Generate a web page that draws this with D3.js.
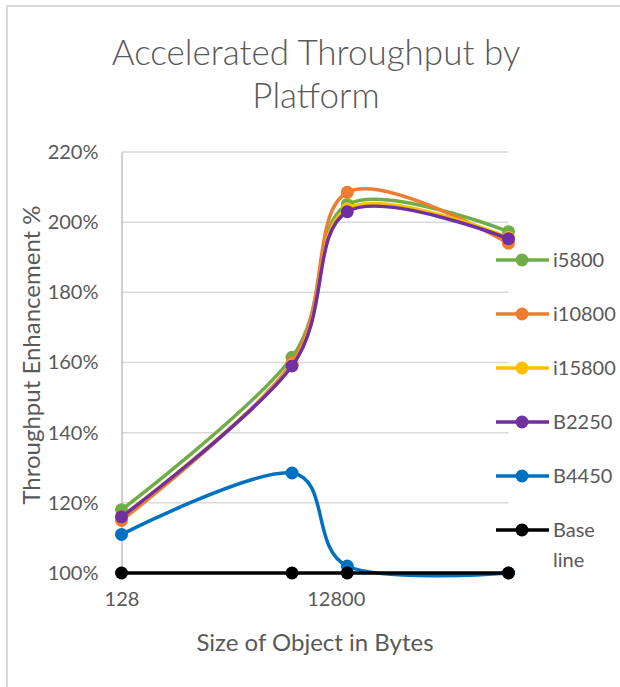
<!DOCTYPE html>
<html>
<head>
<meta charset="utf-8">
<script src="https://cdnjs.cloudflare.com/ajax/libs/d3/7.8.5/d3.min.js"></script>
<style>
  html, body { margin: 0; padding: 0; background: #fff; }
  svg { display: block; }
  text { font-family: Lato, "Open Sans", sans-serif; fill: #595959; }
</style>
</head>
<body>
<svg id="chart" width="620" height="687"></svg>
<script>
// Object sizes (bytes) along the log x axis
const sizes = [128, 5000, 16384, 524288];

// Throughput enhancement (%) per platform
const i5800  = [118, 161.5, 205, 197.3];
const i10800 = [115, 160, 208.5, 194];
const i15800 = [116, 159.3, 203.8, 195.6];
const B2250  = [116, 159, 203, 195.3];
const B4450  = [111, 128.5, 102, 100];
const baseline = [100, 100, 100, 100];

const seriesNames  = ["i5800", "i10800", "i15800", "B2250", "B4450", "Base line"];
const seriesValues = [i5800, i10800, i15800, B2250, B4450, baseline];
const seriesColors = ["#70AD47", "#ED7D31", "#FFC000", "#7030A0", "#0070C0", "#000000"];

const yTicks = [100, 120, 140, 160, 180, 200, 220];
const xTicks = [128, 12800];

const svg = d3.select("#chart");

// chart frame
svg.append("path")
  .attr("d", "M7,687 V6 H620")
  .attr("fill", "none")
  .attr("stroke", "#d9d9d9")
  .attr("stroke-width", 2);

const plot = { left: 121.5, right: 508.5, top: 152, bottom: 573 };

const x = d3.scaleLog().domain([128, 524288]).range([plot.left, plot.right]);
const y = d3.scaleLinear().domain([100, 220]).range([plot.bottom, plot.top]);

// title
const title = svg.append("text")
  .attr("text-anchor", "middle")
  .style("font-weight", 300)
  .style("font-size", "35px");
title.append("tspan").attr("x", 316).attr("y", 65).text("Accelerated Throughput by");
title.append("tspan").attr("x", 316).attr("y", 108).text("Platform");

// horizontal gridlines
svg.append("g")
  .selectAll("line")
  .data(yTicks)
  .join("line")
  .attr("x1", plot.left).attr("x2", plot.right)
  .attr("y1", d => y(d)).attr("y2", d => y(d))
  .attr("stroke", "#d9d9d9")
  .attr("stroke-width", 1.5);

// y axis labels
const yAxis = svg.append("g")
  .attr("transform", `translate(${plot.left},0)`)
  .call(d3.axisLeft(y).tickValues(yTicks).tickFormat(d => d + "%").tickSize(0).tickPadding(23));
yAxis.select(".domain").attr("stroke", "#bfbfbf").attr("stroke-width", 1.5);
yAxis.selectAll("text").style("font-size", "20px").style("font-family", "Lato, sans-serif").attr("fill", "#595959");

// x axis labels
const xAxis = svg.append("g")
  .attr("transform", `translate(0,${plot.bottom})`)
  .call(d3.axisBottom(x).tickValues(xTicks).tickFormat(d3.format("d")).tickSize(0).tickPadding(19));
xAxis.select(".domain").attr("stroke", "#bfbfbf").attr("stroke-width", 1.5);
xAxis.selectAll("text").style("font-size", "20px").style("font-family", "Lato, sans-serif").attr("fill", "#595959");

// axis titles
svg.append("text")
  .attr("transform", "translate(40,355) rotate(-90)")
  .attr("text-anchor", "middle")
  .style("font-size", "24px")
  .text("Throughput Enhancement %");

svg.append("text")
  .attr("x", 315).attr("y", 651)
  .attr("text-anchor", "middle")
  .style("font-size", "24px")
  .text("Size of Object in Bytes");

// smoothed series lines with markers
const line = d3.line()
  .x((d, i) => x(sizes[i]))
  .y(d => y(d))
  .curve(d3.curveCardinal.tension(0));

seriesValues.forEach((vals, k) => {
  const g = svg.append("g");
  g.append("path")
    .attr("d", line(vals))
    .attr("fill", "none")
    .attr("stroke", seriesColors[k])
    .attr("stroke-width", 3.5)
    .attr("stroke-linejoin", "round")
    .attr("stroke-linecap", "round");
  g.selectAll("circle")
    .data(vals)
    .join("circle")
    .attr("cx", (d, i) => x(sizes[i]))
    .attr("cy", d => y(d))
    .attr("r", 6.5)
    .attr("fill", seriesColors[k]);
});

// legend
const legend = svg.append("g");
seriesNames.forEach((name, k) => {
  const cy = 260 + k * 54;
  legend.append("line")
    .attr("x1", 496).attr("x2", 549)
    .attr("y1", cy).attr("y2", cy)
    .attr("stroke", seriesColors[k])
    .attr("stroke-width", 3.5);
  legend.append("circle")
    .attr("cx", 522).attr("cy", cy).attr("r", 6.5)
    .attr("fill", seriesColors[k]);
  const words = name.split(" ");
  const t = legend.append("text")
    .style("font-size", "20px");
  words.forEach((w, j) => {
    t.append("tspan").attr("x", 553).attr("y", cy + 7 + j * 30).text(w);
  });
});
</script>
</body>
</html>
